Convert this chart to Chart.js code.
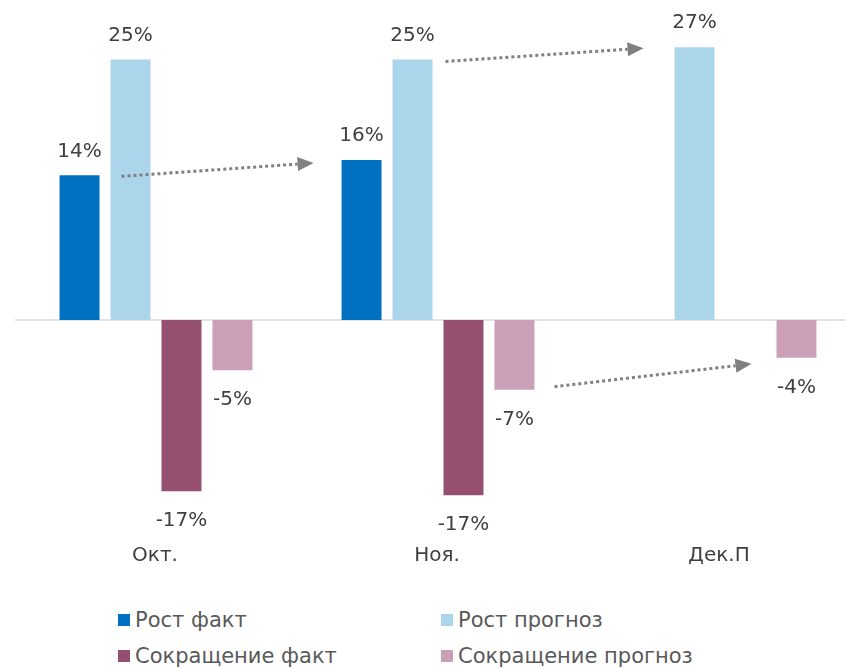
<!DOCTYPE html>
<html>
<head>
<meta charset="utf-8">
<script src="https://cdn.jsdelivr.net/npm/chart.js@4.4.1/dist/chart.umd.min.js"></script>
<style>
    body { margin: 0; background: #fff; overflow: hidden; }
    #wrap { position: relative; width: 861px; height: 580px; }
    .legend { position: absolute; font-family: 'DejaVu Sans', sans-serif; font-size: 21px; color: #595959; }
    .legend span.box { display: inline-block; width: 12px; height: 12px; margin-right: 5px; vertical-align: 1px; }
</style>
</head>
<body>
<div id="wrap"><canvas id="myChart" width="861" height="580"></canvas></div>
<div class="legend" style="left:118px; top:608px;"><span class="box" style="background:#0070C0"></span>Рост факт</div>
<div class="legend" style="left:441px; top:608px;"><span class="box" style="background:#ABD5EA"></span>Рост прогноз</div>
<div class="legend" style="left:118px; top:644px;"><span class="box" style="background:#944F71"></span>Сокращение факт</div>
<div class="legend" style="left:441px; top:644px;"><span class="box" style="background:#CC9FB8"></span>Сокращение прогноз</div>
<script>
const months = ['Окт.', 'Ноя.', 'Дек.П'];
const growthFact = [14.1, 15.6, null];
const growthForecast = [25.4, 25.4, 26.6];
const cutFact = [-16.7, -17.1, null];
const cutForecast = [-4.9, -6.8, -3.7];

const ctx = document.getElementById('myChart');

// arrows: [dataset, index, dx, dy, from bar end] -> [dataset, index, dx, dy]
const arrows = [
    [[1, 0, -9, 1, 0], [0, 1, -48, 3, 0]],
    [[1, 1, 33, 2, 1], [1, 2, -51, 1, 1]],
    [[3, 1, 40, -3, 3], [3, 2, -45, 6, 3]]
];

function barPoint(chart, spec) {
    const bar = chart.getDatasetMeta(spec[0]).data[spec[1]];
    const ref = chart.getDatasetMeta(spec[4]).data[spec[1]];
    return { x: bar.x + spec[2], y: ref.y + spec[3] };
}

const extras = {
    id: 'extras',
    beforeDatasetsDraw(chart) {
        const c = chart.ctx;
        const y0 = chart.scales.y.getPixelForValue(0);
        c.save();
        c.strokeStyle = '#D9D9D9';
        c.lineWidth = 1.5;
        c.beginPath();
        c.moveTo(chart.chartArea.left, y0);
        c.lineTo(chart.chartArea.right, y0);
        c.stroke();
        c.restore();
    },
    afterDatasetsDraw(chart) {
        const c = chart.ctx;
        c.save();
        c.font = '20px "DejaVu Sans"';
        c.fillStyle = '#404040';
        c.textAlign = 'center';
        c.textBaseline = 'middle';
        chart.data.datasets.forEach(function(ds, i) {
            chart.getDatasetMeta(i).data.forEach(function(bar, j) {
                const v = ds.data[j];
                if (v === null) return;
                const txt = Math.round(v) + '%';
                if (v >= 0) c.fillText(txt, bar.x, bar.y - 24);
                else c.fillText(txt, bar.x, bar.y + 30);
            });
        });
        // category names
        const xs = chart.scales.x;
        months.forEach(function(m, j) {
            c.fillText(m, xs.getPixelForValue(j) - 1, 556);
        });
        // dotted arrows
        c.strokeStyle = '#808080';
        c.fillStyle = '#808080';
        c.lineWidth = 3;
        arrows.forEach(function(a) {
            const p1 = barPoint(chart, a[0]);
            const p2 = barPoint(chart, [a[1][0], a[1][1], a[1][2], a[1][3], a[0][4]]);
            const ang = Math.atan2(p2.y - p1.y, p2.x - p1.x);
            const len = 16;
            const bx = p2.x - len * Math.cos(ang);
            const by = p2.y - len * Math.sin(ang);
            c.setLineDash([3, 3]);
            c.beginPath();
            c.moveTo(p1.x, p1.y);
            c.lineTo(bx, by);
            c.stroke();
            c.setLineDash([]);
            c.beginPath();
            c.moveTo(p2.x, p2.y);
            c.lineTo(bx + 7 * Math.sin(ang), by - 7 * Math.cos(ang));
            c.lineTo(bx - 7 * Math.sin(ang), by + 7 * Math.cos(ang));
            c.closePath();
            c.fill();
        });
        c.restore();
    }
};

const myChart = new Chart(ctx, {
    type: 'bar',
    data: {
        labels: months,
        datasets: [{
            label: 'Рост факт',
            data: growthFact,
            backgroundColor: '#0070C0'
        }, {
            label: 'Рост прогноз',
            data: growthForecast,
            backgroundColor: '#ABD5EA'
        }, {
            label: 'Сокращение факт',
            data: cutFact,
            backgroundColor: '#944F71'
        }, {
            label: 'Сокращение прогноз',
            data: cutForecast,
            backgroundColor: '#CC9FB8'
        }]
    },
    options: {
        responsive: false,
        animation: false,
        devicePixelRatio: 1,
        categoryPercentage: 0.723,
        barPercentage: 0.784,
        layout: {
            padding: { left: 15, right: 0, top: 0, bottom: 35 }
        },
        scales: {
            x: { display: false },
            y: { display: false, min: -21.95, max: 31.2 }
        },
        plugins: {
            legend: { display: false },
            tooltip: { enabled: false }
        }
    },
    plugins: [extras]
});
</script>
</body>
</html>
